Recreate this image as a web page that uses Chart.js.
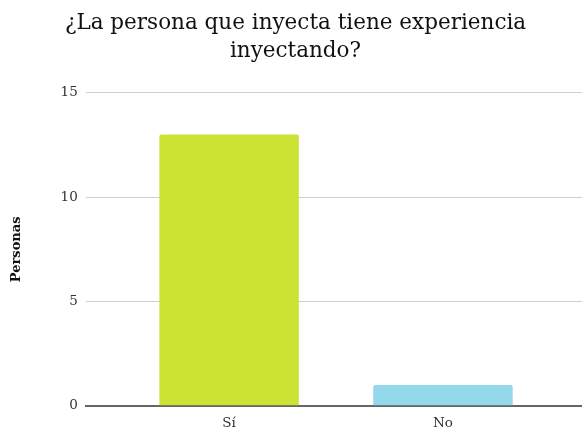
<!DOCTYPE html>
<html>
<head>
<meta charset="utf-8">
<script src="https://cdn.jsdelivr.net/npm/chart.js@4"></script>
<style>
  html, body { margin: 0; padding: 0; background: #fff; }
  #wrap { width: 582px; height: 433px; }
</style>
</head>
<body>
<div id="wrap"><canvas id="ExperienciaChart"></canvas></div>
<script>
var Respuestas = ['Sí', 'No'];
var Personas = [13, 1];
var Colores = ['#cde334', '#94d8eb'];
var TicksY = [0, 5, 10, 15];

// bars sit on a linear x scale so the plot can run wider than the two categories
var puntos = [];
for (var i = 0; i < Personas.length; i++) {
    puntos[i] = { x: i, y: Personas[i] };
}

var serif = "'DejaVu Serif', Georgia, serif";

new Chart(document.getElementById("ExperienciaChart"), {
    type: 'bar',
    data: {
        datasets: [
            {
                data: puntos,
                backgroundColor: Colores,
                borderRadius: 2,
                borderSkipped: 'bottom',
                barPercentage: 0.652,
                categoryPercentage: 1
            }
        ]
    },
    options: {
        responsive: true,
        maintainAspectRatio: false,
        animation: false,
        layout: { padding: { left: 9, right: 0, top: 4, bottom: -9 } },
        plugins: {
            legend: { display: false },
            tooltip: { enabled: false },
            title: {
                display: true,
                text: ['¿La persona que inyecta tiene experiencia', 'inyectando?'],
                color: '#111',
                font: { family: serif, size: 21.5, weight: 'normal', lineHeight: 1.3 },
                padding: { top: 5, bottom: 28 }
            }
        },
        scales: {
            x: {
                type: 'linear',
                min: -0.67,
                max: 1.65,
                offset: false,
                grid: { display: false, drawTicks: false },
                border: { display: true, color: '#666', width: 2 },
                afterBuildTicks: function (axis) {
                    axis.ticks = Respuestas.map(function (r, i) { return { value: i }; });
                },
                ticks: {
                    autoSkip: false,
                    padding: 10,
                    color: '#333',
                    font: { family: serif, size: 13.5 },
                    callback: function (v) { return Respuestas[v]; }
                }
            },
            y: {
                min: 0,
                max: 15,
                afterBuildTicks: function (axis) {
                    axis.ticks = TicksY.map(function (v) { return { value: v }; });
                },
                grid: { color: '#cfcfcf', lineWidth: 1, drawTicks: false },
                border: { display: false },
                ticks: {
                    padding: 8,
                    color: '#333',
                    font: { family: serif, size: 13.5 }
                },
                title: {
                    display: true,
                    text: 'Personas',
                    color: '#111',
                    font: { family: serif, size: 13, weight: 'bold' },
                    padding: { top: 0, bottom: 28 }
                }
            }
        }
    }
});
</script>
</body>
</html>
